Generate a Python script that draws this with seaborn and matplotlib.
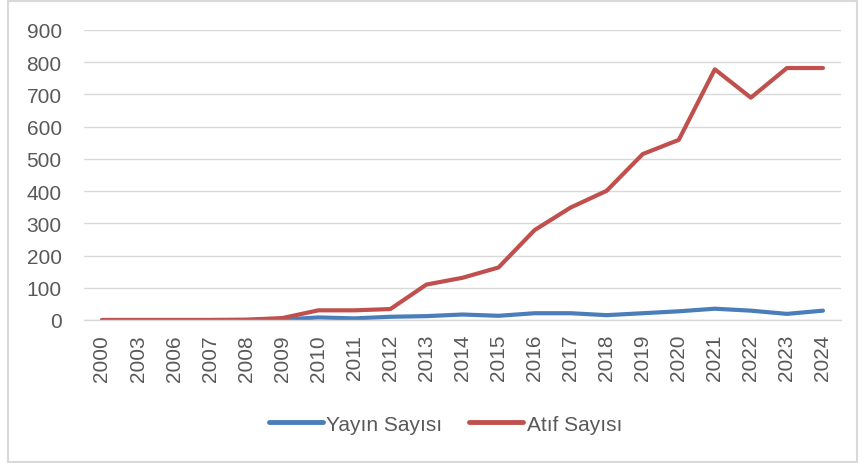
import pandas as pd
import matplotlib
matplotlib.use("Agg")
import matplotlib.pyplot as plt
from matplotlib.patches import Rectangle
import seaborn as sns

# --- Data ---
years = ['2000', '2003', '2006', '2007', '2008', '2009', '2010', '2011', '2012', '2013', '2014',
         '2015', '2016', '2017', '2018', '2019', '2020', '2021', '2022', '2023', '2024']
yayin_sayisi = [0, 0, 0, 0, 0, 1, 8, 5, 10, 12, 17, 13, 21, 21, 15, 21, 27, 35, 29, 19, 29]
atif_sayisi = [0, 0, 0, 0, 1, 6, 30, 30, 34, 110, 131, 163, 279, 349, 401, 515, 559, 778, 690, 782, 782]
series_names = ['Yayın Sayısı', 'Atıf Sayısı']
series_colors = {'Yayın Sayısı': '#4A7EBB', 'Atıf Sayısı': '#C0504D'}
y_ticks = list(range(0, 1000, 100))

df = pd.DataFrame({
    'yil': years * 2,
    'deger': yayin_sayisi + atif_sayisi,
    'seri': [series_names[0]] * len(years) + [series_names[1]] * len(years),
})

sns.set_theme(style="white")
plt.rcParams['font.family'] = ['Liberation Sans', 'DejaVu Sans']
text_color = '#595959'
grid_color = '#D9D9D9'

fig = plt.figure(figsize=(8.63, 4.64), dpi=100)
ax = fig.add_axes([0.0973, 0.3082, 0.8772, 0.625])

sns.lineplot(data=df, x='yil', y='deger', hue='seri', hue_order=series_names,
             palette=series_colors, linewidth=3, sort=False, ax=ax,
             solid_capstyle='round', solid_joinstyle='round')

ax.set_xlim(-0.5, len(years) - 0.5)
ax.set_ylim(0, 900)
ax.set_yticks(y_ticks)
ax.set_xlabel('')
ax.set_ylabel('')
ax.yaxis.grid(True, color=grid_color, linewidth=1.0)
ax.set_axisbelow(True)
for side in ['top', 'right', 'left']:
    ax.spines[side].set_visible(False)
ax.spines['bottom'].set_color(grid_color)
ax.spines['bottom'].set_linewidth(1.0)

ax.tick_params(axis='y', length=0, pad=16, labelsize=15, labelcolor=text_color)
ax.tick_params(axis='x', length=0, pad=10, labelsize=15, labelcolor=text_color, labelrotation=90)

# Legend below the chart, like the Excel original
leg = ax.get_legend()
handles = leg.legend_handles
labels = [t.get_text() for t in leg.get_texts()]
leg.remove()
for h in handles:
    h.set_linewidth(3.5)
fig.legend(handles, labels, loc='center', bbox_to_anchor=(0.516, 0.084), ncol=2,
           frameon=False, fontsize=15, labelcolor=text_color, handlelength=2.6,
           handletextpad=0.15, columnspacing=1.3)

# Chart area border
fig.patches.append(Rectangle((0.0093, 0.002), 0.984, 0.993, transform=fig.transFigure,
                             fill=False, edgecolor=grid_color, linewidth=1.5))

fig.savefig('out.png', dpi=100)
plt.close(fig)
